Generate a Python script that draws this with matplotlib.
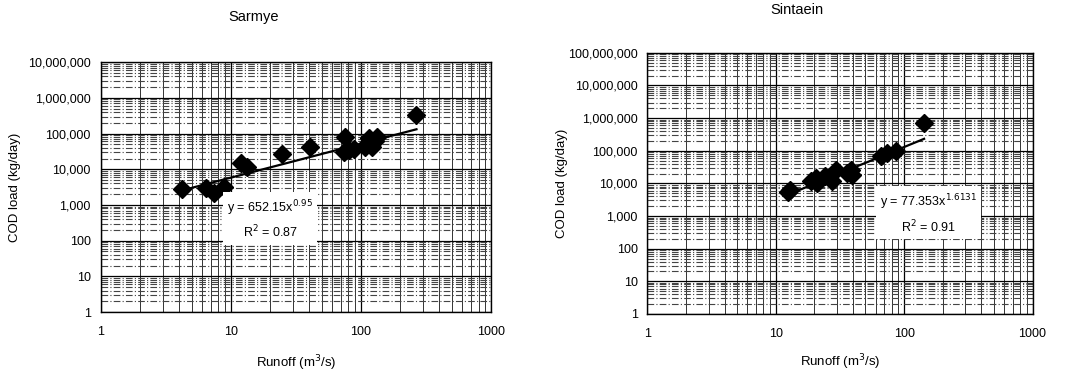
import matplotlib

matplotlib.use("Agg")
import matplotlib.pyplot as plt
import matplotlib.ticker as mticker
import numpy as np

plt.rcParams["font.family"] = ["Liberation Sans", "DejaVu Sans"]

# Sarmye station: runoff (m3/s) vs COD load (kg/day)
sarmye_runoff = [4.2, 6.5, 7.4, 8.9, 11.9, 13.3, 24.7, 40.3, 75.8, 73.6,
                 80.3, 87.8, 111, 115, 121, 128, 108, 132, 267]
sarmye_load = [2750, 2900, 2170, 3100, 14500, 11700, 27500, 42000, 81000, 31000,
               34000, 37000, 52000, 73000, 41000, 63000, 42000, 81000, 327000]
sarmye_coef, sarmye_exp = 652.15, 0.95

# Sintaein station
sintaein_runoff = [12.4, 12.8, 18.7, 20.4, 21.0, 24.4, 27.6, 29.2, 36.1, 38.3,
                   39.3, 65.7, 74.0, 86.0, 143]
sintaein_load = [5430, 6100, 11500, 14500, 10300, 16300, 11500, 26400, 20800, 26400,
                 18500, 67000, 84000, 95000, 704000]
sintaein_coef, sintaein_exp = 77.353, 1.6131

x_ticks = [1, 10, 100, 1000]


def draw_panel(ax, runoff, load, coef, expo, ymax, eq_text, r2_text, box_xy, xlab_y):
    ax.set_xscale("log")
    ax.set_yscale("log")
    ax.set_xlim(1, 1000)
    ax.set_ylim(1, ymax)

    # busy scanned-looking grid
    ax.grid(True, which="major", axis="both", color="black", linewidth=0.9)
    ax.grid(True, which="minor", axis="x", color="#333333", linewidth=0.7)
    ax.grid(True, which="minor", axis="y", color="#444444", linewidth=0.8,
            linestyle=(0, (6, 2, 1, 2)))
    ax.set_axisbelow(True)

    ax.plot(runoff, load, "D", color="black", markersize=9, zorder=3)

    xs = np.array([min(runoff), max(runoff)])
    ax.plot(xs, coef * xs ** expo, color="black", linewidth=1.6, zorder=3)

    ax.xaxis.set_major_locator(mticker.FixedLocator(x_ticks))
    ax.xaxis.set_major_formatter(mticker.FuncFormatter(lambda v, p: f"{v:g}"))
    ax.yaxis.set_major_locator(mticker.LogLocator(base=10, numticks=12))
    ax.yaxis.set_major_formatter(mticker.FuncFormatter(lambda v, p: f"{v:,.0f}"))
    ax.yaxis.set_minor_locator(mticker.LogLocator(base=10, subs=np.arange(2, 10), numticks=12))
    ax.tick_params(which="both", length=0, labelsize=9, pad=7)
    ax.tick_params(axis="x", pad=10)

    for s in ax.spines.values():
        s.set_color("black")
        s.set_linewidth(1.0)

    ax.set_xlabel(r"Runoff (m$^3$/s)", fontsize=9.5)
    ax.set_ylabel("COD load (kg/day)", fontsize=9.5)
    ax.xaxis.set_label_coords(0.5, xlab_y)
    ax.yaxis.set_label_coords(-0.205, 0.5)

    ax.text(box_xy[0], box_xy[1], eq_text + "\n" + r2_text, transform=ax.transAxes,
            ha="center", va="center", fontsize=9, linespacing=1.45, zorder=4,
            bbox=dict(boxstyle="square,pad=0.3", facecolor="white", edgecolor="none"))
    return ax


fig = plt.figure(figsize=(10.7, 3.72), dpi=100)
ax1 = fig.add_axes([0.094, 0.161, 0.365, 0.672])
ax2 = fig.add_axes([0.605, 0.156, 0.360, 0.702])

draw_panel(ax1, sarmye_runoff, sarmye_load, sarmye_coef, sarmye_exp, 1e7,
           r"y = 652.15x$^{0.95}$", r"R$^2$ = 0.87", (0.434, 0.37), -0.164)
draw_panel(ax2, sintaein_runoff, sintaein_load, sintaein_coef, sintaein_exp, 1e8,
           r"y = 77.353x$^{1.6131}$", r"R$^2$ = 0.91", (0.73, 0.383), -0.149)

fig.text(254 / 1070, 1 - 17 / 372, "Sarmye", ha="center", va="center", fontsize=10.5)
fig.text(797 / 1070, 1 - 10 / 372, "Sintaein", ha="center", va="center", fontsize=10.5)

fig.savefig("out.png", dpi=100)
